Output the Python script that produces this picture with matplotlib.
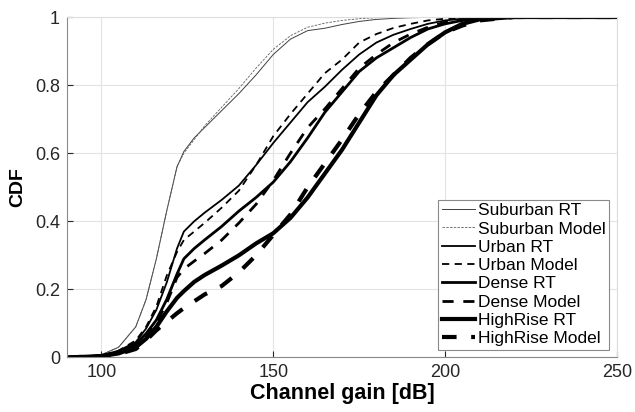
import numpy as np
import matplotlib.pyplot as plt

plt.rcParams['font.family'] = ['Liberation Sans', 'DejaVu Sans']

# channel gain grid [dB]
gain = [90, 100, 105, 110, 113, 116, 119, 122, 124, 127, 130, 135, 140, 145,
        150, 155, 160, 165, 170, 175, 180, 185, 190, 195, 200, 205, 210, 220, 250]

suburban_rt = [0, 0.008, 0.03, 0.09, 0.17, 0.29, 0.43, 0.56, 0.605, 0.645, 0.675, 0.725,
               0.775, 0.83, 0.89, 0.935, 0.96, 0.967, 0.978, 0.987, 0.993, 0.996, 0.998,
               0.999, 1, 1, 1, 1, 1]
suburban_model = [0, 0.008, 0.03, 0.09, 0.17, 0.29, 0.43, 0.56, 0.6, 0.64, 0.68, 0.735,
                  0.79, 0.85, 0.905, 0.945, 0.97, 0.982, 0.99, 0.995, 0.998, 0.999, 1,
                  1, 1, 1, 1, 1, 1]
urban_rt = [0, 0.006, 0.02, 0.045, 0.085, 0.14, 0.22, 0.32, 0.37, 0.4, 0.425, 0.463,
            0.505, 0.565, 0.63, 0.69, 0.75, 0.795, 0.845, 0.89, 0.925, 0.948, 0.965,
            0.98, 0.99, 0.995, 0.998, 1, 1]
urban_model = [0, 0.006, 0.02, 0.05, 0.09, 0.15, 0.24, 0.31, 0.345, 0.37, 0.395, 0.44,
               0.49, 0.565, 0.65, 0.715, 0.775, 0.835, 0.875, 0.925, 0.95, 0.968, 0.98,
               0.99, 0.995, 0.998, 1, 1, 1]
dense_rt = [0, 0.005, 0.015, 0.04, 0.07, 0.11, 0.17, 0.245, 0.29, 0.32, 0.345, 0.385,
            0.43, 0.47, 0.515, 0.575, 0.645, 0.72, 0.78, 0.84, 0.88, 0.91, 0.94,
            0.965, 0.98, 0.99, 0.995, 1, 1]
dense_model = [0, 0.005, 0.015, 0.035, 0.06, 0.1, 0.16, 0.235, 0.26, 0.283, 0.305, 0.345,
               0.395, 0.45, 0.52, 0.6, 0.675, 0.73, 0.79, 0.85, 0.89, 0.925, 0.95,
               0.97, 0.985, 0.992, 0.997, 1, 1]
highrise_rt = [0, 0.004, 0.012, 0.03, 0.055, 0.09, 0.135, 0.175, 0.195, 0.222, 0.242, 0.27,
               0.3, 0.335, 0.365, 0.41, 0.47, 0.54, 0.61, 0.69, 0.77, 0.83, 0.875,
               0.92, 0.955, 0.98, 0.993, 1, 1]
highrise_model = [0, 0.004, 0.01, 0.025, 0.05, 0.08, 0.105, 0.13, 0.145, 0.165, 0.185, 0.21,
                  0.25, 0.3, 0.36, 0.42, 0.5, 0.57, 0.64, 0.715, 0.78, 0.83, 0.88,
                  0.92, 0.955, 0.975, 0.99, 1, 1]

fig, ax = plt.subplots(figsize=(6.35, 4.12), dpi=100)
fig.subplots_adjust(left=0.1055, right=0.9717, bottom=0.1323, top=0.9587)

ax.plot(gain, suburban_rt, '-', color='#404040', lw=0.7, label='Suburban RT')
ax.plot(gain, suburban_model, '--', color='#606060', lw=0.6, dashes=(3, 1.5), label='Suburban Model')
ax.plot(gain, urban_rt, 'k-', lw=1.3, label='Urban RT')
ax.plot(gain, urban_model, 'k--', lw=1.3, dashes=(4, 3), label='Urban Model')
ax.plot(gain, dense_rt, 'k-', lw=2.0, label='Dense RT')
ax.plot(gain, dense_model, 'k--', lw=2.0, dashes=(4, 3.5), label='Dense Model')
ax.plot(gain, highrise_rt, 'k-', lw=3.0, label='HighRise RT')
ax.plot(gain, highrise_model, 'k--', lw=3.0, dashes=(3.5, 3.5), label='HighRise Model')

ax.set_xlim(90, 250)
ax.set_ylim(0, 1)
ax.set_xticks([100, 150, 200, 250])
ax.set_yticks([0, 0.2, 0.4, 0.6, 0.8, 1])
ax.set_yticklabels(['0', '0.2', '0.4', '0.6', '0.8', '1'])
ax.grid(True, color='#e3e3e3', lw=0.8)
ax.set_axisbelow(True)
ax.tick_params(direction='in', labelsize=13, length=4, colors='#262626', pad=5)
for s in ax.spines.values():
    s.set_color('#8a8a8a')
    s.set_linewidth(0.8)
ax.spines['top'].set_color('#dddddd')
ax.spines['right'].set_color('#dddddd')

ax.set_xlabel('Channel gain [dB]', fontsize=15.5, fontweight='bold', labelpad=1)
ax.set_ylabel('CDF', fontsize=14, fontweight='bold', labelpad=6)

leg = ax.legend(loc='lower right', fontsize=12.5, handlelength=1.95, handletextpad=0.15,
                labelspacing=0.18, borderpad=0.2, borderaxespad=0.45, fancybox=False,
                framealpha=1)
leg.get_frame().set_edgecolor('#8a8a8a')
leg.get_frame().set_linewidth(0.8)

fig.savefig('out.png', dpi=100)
